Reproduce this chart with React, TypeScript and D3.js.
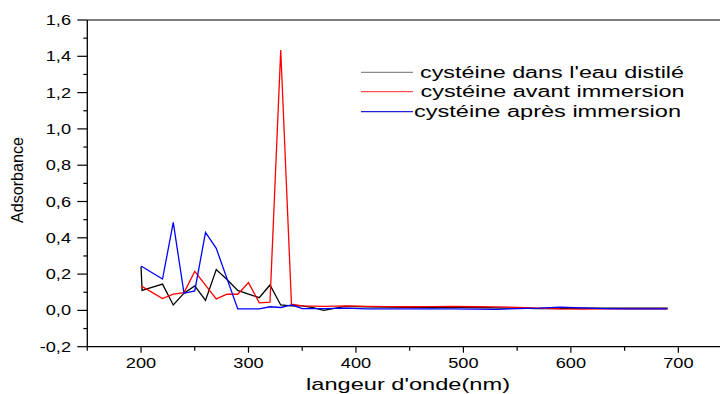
import React from "react";
import * as d3 from "d3";

// Absorption spectra of cysteine (wavelength in nm, absorbance)
const eauNm = [200, 201, 220, 230, 240, 250, 260, 270, 280, 290, 300, 310, 320, 330, 340, 350, 360, 370, 390, 410, 430, 450, 470, 490, 510, 530, 550, 570, 590, 610, 630, 650, 670, 690];
const eauAbs = [0.24, 0.11, 0.145, 0.03, 0.095, 0.135, 0.055, 0.225, 0.17, 0.11, 0.09, 0.07, 0.14, 0.03, 0.025, 0.025, 0.015, 0.0, 0.022, 0.02, 0.018, 0.017, 0.016, 0.018, 0.016, 0.014, 0.012, 0.01, 0.01, 0.012, 0.012, 0.012, 0.012, 0.012];

const avantNm = [200, 220, 230, 240, 250, 270, 280, 290, 300, 310, 320, 330, 340, 350, 370, 390, 410, 430, 450, 470, 490, 510, 530, 550, 570, 590, 610, 630, 650, 670, 690];
const avantAbs = [0.135, 0.065, 0.09, 0.098, 0.215, 0.063, 0.089, 0.089, 0.153, 0.042, 0.045, 1.435, 0.034, 0.025, 0.022, 0.025, 0.022, 0.021, 0.02, 0.021, 0.022, 0.02, 0.019, 0.017, 0.012, 0.008, 0.007, 0.008, 0.008, 0.008, 0.008];

const apresNm = [200, 220, 230, 240, 250, 260, 270, 290, 310, 320, 330, 340, 350, 370, 390, 410, 430, 450, 470, 490, 510, 530, 550, 570, 590, 610, 630, 650, 670, 690];
const apresAbs = [0.245, 0.173, 0.485, 0.094, 0.107, 0.43, 0.342, 0.008, 0.008, 0.02, 0.016, 0.03, 0.01, 0.01, 0.012, 0.008, 0.008, 0.008, 0.008, 0.008, 0.007, 0.006, 0.01, 0.012, 0.018, 0.014, 0.01, 0.008, 0.008, 0.008];

const seriesNames = ["cystéine dans l'eau distilé", "cystéine avant immersion", "cystéine après immersion"];
const xMajorTicks = [200, 300, 400, 500, 600, 700];
const xMinorTicks = [150, 250, 350, 450, 550, 650, 750];
const yMajorTicks = [-0.2, 0.0, 0.2, 0.4, 0.6, 0.8, 1.0, 1.2, 1.4, 1.6];
const yMinorTicks = [-0.1, 0.1, 0.3, 0.5, 0.7, 0.9, 1.1, 1.3, 1.5];

const W = 720;
const H = 394;
const left = 87.3;
const top = 20;
const bottom = 346.7;

const x = d3.scaleLinear().domain([150, 750]).range([left, left + 600 * 1.0746]);
const y = d3.scaleLinear().domain([-0.2, 1.6]).range([bottom, top]);

const fmt = (v: number) => v.toFixed(1).replace(".", ",");

const series = [
  { name: seriesNames[0], nm: eauNm, abs: eauAbs, color: "#000000", legendColor: "#8a8a8a" },
  { name: seriesNames[1], nm: avantNm, abs: avantAbs, color: "#ff0000", legendColor: "#ff5050" },
  { name: seriesNames[2], nm: apresNm, abs: apresAbs, color: "#0000ff", legendColor: "#2020e0" },
];

const font = "'Liberation Sans', Arial, sans-serif";

export default function App() {
  const line = d3
    .line<[number, number]>()
    .x((d) => x(d[0]))
    .y((d) => y(d[1]));

  const legendRows = [
    { lineY: 72.3, textX: 420, baseY: 77.5, width: 264 },
    { lineY: 91.7, textX: 420.5, baseY: 97, width: 264 },
    { lineY: 111.7, textX: 414, baseY: 117, width: 267 },
  ];

  return (
    <svg
      width={W}
      height={H}
      style={{ position: "absolute", left: 0, top: 0, background: "#fff" }}
      fontFamily={font}
    >
      <defs>
        <clipPath id="plot">
          <rect x={left} y={top} width={W - left} height={bottom - top} />
        </clipPath>
      </defs>

      {/* frame */}
      <line x1={left} x2={W} y1={top} y2={top} stroke="#555" strokeWidth={1.3} />
      <line x1={left} x2={W} y1={bottom} y2={bottom} stroke="#000" strokeWidth={1.3} />
      <line x1={left} x2={left} y1={top} y2={bottom} stroke="#000" strokeWidth={1.3} />

      {/* y axis ticks */}
      {yMajorTicks.map((t) => (
        <g key={"ym" + t}>
          <line x1={left - 10} x2={left} y1={y(t)} y2={y(t)} stroke="#000" strokeWidth={1.2} />
          <text
            transform={`translate(71,${y(t) + 5}) scale(1.3,1)`}
            textAnchor="end"
            fontSize={14}
            fill="#000"
          >
            {fmt(t)}
          </text>
        </g>
      ))}
      {yMinorTicks.map((t) => (
        <line key={"yn" + t} x1={left - 4} x2={left} y1={y(t)} y2={y(t)} stroke="#000" strokeWidth={1.2} />
      ))}

      {/* x axis ticks */}
      {xMajorTicks.map((t) => (
        <g key={"xm" + t}>
          <line x1={x(t)} x2={x(t)} y1={bottom} y2={bottom + 6} stroke="#000" strokeWidth={1.2} />
          <text
            transform={`translate(${x(t)},${bottom + 21.5}) scale(1.3,1)`}
            textAnchor="middle"
            fontSize={14}
            fill="#000"
          >
            {t}
          </text>
        </g>
      ))}
      {xMinorTicks.map((t) => (
        <line key={"xn" + t} x1={x(t)} x2={x(t)} y1={bottom} y2={bottom + 4} stroke="#000" strokeWidth={1.2} />
      ))}

      {/* axis titles */}
      <text
        x={408}
        y={390}
        textAnchor="middle"
        fontSize={17}
        textLength={204}
        lengthAdjust="spacingAndGlyphs"
        fill="#000"
      >
        langeur d'onde(nm)
      </text>
      <text
        transform={`translate(23,180) rotate(-90)`}
        textAnchor="middle"
        fontSize={17}
        textLength={86}
        lengthAdjust="spacingAndGlyphs"
        fill="#000"
      >
        Adsorbance
      </text>

      {/* spectra */}
      <g clipPath="url(#plot)">
        {series.map((s) => (
          <path
            key={s.name}
            d={line(s.nm.map((n, i) => [n, s.abs[i]] as [number, number])) || ""}
            fill="none"
            stroke={s.color}
            strokeWidth={1.3}
            strokeLinejoin="miter"
          />
        ))}
      </g>

      {/* legend */}
      {series.map((s, i) => {
        const r = legendRows[i];
        return (
          <g key={"lg" + i}>
            <line x1={361} x2={413} y1={r.lineY} y2={r.lineY} stroke={s.legendColor} strokeWidth={1.2} />
            <text
              x={r.textX}
              y={r.baseY}
              fontSize={16}
              textLength={r.width}
              lengthAdjust="spacingAndGlyphs"
              fill="#000"
            >
              {s.name}
            </text>
          </g>
        );
      })}
    </svg>
  );
}
